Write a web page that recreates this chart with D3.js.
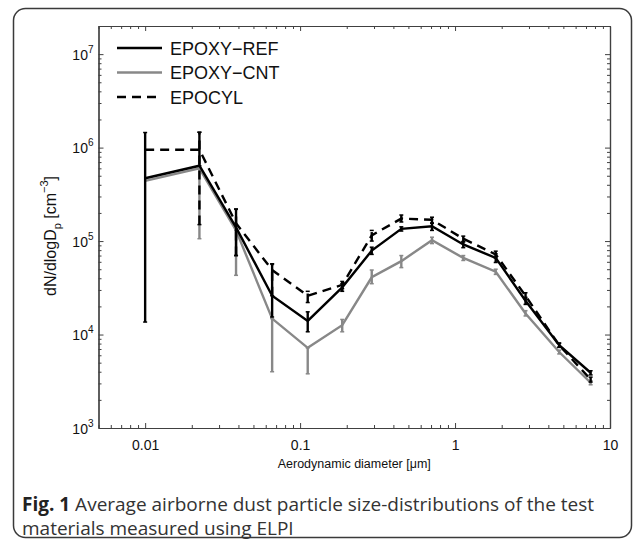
<!DOCTYPE html>
<html>
<head>
<meta charset="utf-8">
<script src="https://cdnjs.cloudflare.com/ajax/libs/d3/7.8.5/d3.min.js"></script>
<style>
body { margin: 0; background: #fff; }
svg { display: block; }
</style>
</head>
<body>
<script>
// ELPI stage diameters (um)
var diameters = [0.01, 0.0224, 0.0386, 0.066, 0.112, 0.187, 0.29, 0.45, 0.71, 1.13, 1.83, 2.85, 4.7, 7.5];

// mean dN/dlogDp, with lower/upper ends of the error bars
var refMean = [4.7e5, 6.4e5, 1.4e5, 2.6e4, 1.4e4, 3.2e4, 7.9e4, 1.35e5, 1.44e5, 9.2e4, 6.6e4, 2.3e4, 7.7e3, 3.9e3];
var refLow  = [1.36e4, 6.4e5, 7.0e4, 1.54e4, 1.07e4, 2.9e4, 7.2e4, 1.28e5, 1.3e5, 8.5e4, 5.9e4, 2.1e4, 7.3e3, 3.7e3];
var refHigh = [1.45e6, 1.46e6, 2.2e5, 5.7e4, 1.75e4, 3.5e4, 8.6e4, 1.42e5, 1.56e5, 9.9e4, 7.3e4, 2.5e4, 8.1e3, 4.1e3];

var cntMean = [4.4e5, 6.0e5, 1.3e5, 1.48e4, 7.2e3, 1.26e4, 4.1e4, 6.1e4, 1.02e5, 6.6e4, 4.7e4, 1.68e4, 6.5e3, 3.05e3];
var cntLow  = [4.4e5, 1.06e5, 4.3e4, 4.0e3, 3.8e3, 1.07e4, 3.5e4, 5.2e4, 9.4e4, 6.2e4, 4.4e4, 1.58e4, 6.2e3, 2.9e3];
var cntHigh = [4.4e5, 6.0e5, 1.3e5, 1.48e4, 7.2e3, 1.45e4, 4.9e4, 7.0e4, 1.1e5, 7.0e4, 5.0e4, 1.8e4, 6.8e3, 3.2e3];

var cylMean = [9.5e5, 9.5e5, 1.55e5, 4.9e4, 2.6e4, 3.4e4, 1.15e5, 1.74e5, 1.69e5, 1.06e5, 7.2e4, 2.6e4, 7.7e3, 3.3e3];
var cylLow  = [9.5e5, 1.5e5, 7.0e4, 2.6e4, 2.2e4, 3.1e4, 1.0e5, 1.6e5, 1.55e5, 9.8e4, 6.6e4, 2.4e4, 7.3e3, 3.1e3];
var cylHigh = [9.5e5, 1.46e6, 2.2e5, 5.7e4, 2.9e4, 3.7e4, 1.3e5, 1.9e5, 1.8e5, 1.13e5, 7.8e4, 2.8e4, 8.1e3, 3.5e3];

var seriesNames = ["EPOXY\u2212REF", "EPOXY\u2212CNT", "EPOCYL"];

var xMajor = [0.01, 0.1, 1, 10];
var xMajorLabels = ["0.01", "0.1", "1", "10"];
var yMajor = [1e3, 1e4, 1e5, 1e6, 1e7];
var yExponents = ["3", "4", "5", "6", "7"];

var captionBold = "Fig. 1";
var captionLines = [" Average airborne dust particle size-distributions of the test", "materials measured using ELPI"];

var width = 633,
    height = 540;

var svg = d3.select("body").append("svg")
    .attr("width", width)
    .attr("height", height);

// figure frame
svg.append("rect")
    .attr("x", 13.5)
    .attr("y", 8.5)
    .attr("width", 618)
    .attr("height", 529)
    .attr("rx", 12)
    .attr("fill", "none")
    .attr("stroke", "#3a3a3a")
    .attr("stroke-width", 1.5);

var plotLeft = 98.5, plotRight = 610, plotTop = 26, plotBottom = 428;

var x = d3.scaleLog().domain([0.005, 10]).range([plotLeft, plotRight]);
var y = d3.scaleLog().domain([1e3, 2e7]).range([plotBottom, plotTop]);

// minor ticks
var xMinor = [];
[0.001, 0.01, 0.1, 1].forEach(function(d){
    for (var k = 2; k <= 9; k++) {
        var v = d * k;
        if (v >= 0.005 && v <= 10) xMinor.push(v);
    }
});
var yMinor = [];
[1e3, 1e4, 1e5, 1e6, 1e7].forEach(function(d){
    for (var k = 2; k <= 9; k++) {
        var v = d * k;
        if (v <= 2e7) yMinor.push(v);
    }
});

var axisColor = "#404040";

function styleAxis(g) {
    g.select(".domain").attr("stroke", axisColor).attr("stroke-width", 1.2);
    g.selectAll(".tick line").attr("stroke", axisColor).attr("stroke-width", 1);
}

var axes = svg.append("g");

axes.append("g").attr("transform", "translate(0," + plotBottom + ")")
    .call(d3.axisBottom(x).tickValues(xMinor).tickSize(-3).tickSizeOuter(0).tickFormat(""))
    .call(styleAxis);
axes.append("g").attr("transform", "translate(0," + plotTop + ")")
    .call(d3.axisTop(x).tickValues(xMinor).tickSize(-3).tickSizeOuter(0).tickFormat(""))
    .call(styleAxis);
axes.append("g").attr("transform", "translate(" + plotLeft + ",0)")
    .call(d3.axisLeft(y).tickValues(yMinor).tickSize(-3).tickSizeOuter(0).tickFormat(""))
    .call(styleAxis);
axes.append("g").attr("transform", "translate(" + plotRight + ",0)")
    .call(d3.axisRight(y).tickValues(yMinor).tickSize(-3).tickSizeOuter(0).tickFormat(""))
    .call(styleAxis);

var xAxis = axes.append("g").attr("transform", "translate(0," + plotBottom + ")")
    .call(d3.axisBottom(x).tickValues(xMajor).tickSize(-5).tickSizeOuter(0)
        .tickFormat(function(d, i){ return xMajorLabels[i]; }))
    .call(styleAxis);
xAxis.selectAll(".tick text")
    .attr("y", 12)
    .attr("font-family", "Liberation Sans, Arial, sans-serif")
    .attr("font-size", 14)
    .attr("fill", "#111");
axes.append("g").attr("transform", "translate(0," + plotTop + ")")
    .call(d3.axisTop(x).tickValues(xMajor).tickSize(-5).tickSizeOuter(0).tickFormat(""))
    .call(styleAxis);

var yAxis = axes.append("g").attr("transform", "translate(" + plotLeft + ",0)")
    .call(d3.axisLeft(y).tickValues(yMajor).tickSize(-5).tickSizeOuter(0).tickFormat(""))
    .call(styleAxis);
yAxis.selectAll(".tick").append("text")
    .attr("x", -5)
    .attr("y", 5)
    .attr("text-anchor", "end")
    .attr("font-family", "Liberation Sans, Arial, sans-serif")
    .attr("font-size", 14)
    .attr("fill", "#111")
    .each(function(d, i){
        var t = d3.select(this);
        t.append("tspan").text("10");
        t.append("tspan").attr("dy", -7).attr("font-size", 10).text(yExponents[i]);
    });
axes.append("g").attr("transform", "translate(" + plotRight + ",0)")
    .call(d3.axisRight(y).tickValues(yMajor).tickSize(-5).tickSizeOuter(0).tickFormat(""))
    .call(styleAxis);

// axis labels
svg.append("text")
    .attr("x", (plotLeft + plotRight) / 2)
    .attr("y", 468)
    .attr("text-anchor", "middle")
    .attr("font-family", "Liberation Sans, Arial, sans-serif")
    .attr("font-size", 12.5)
    .attr("fill", "#111")
    .text("Aerodynamic diameter [\u03bcm]");

var yLabel = svg.append("text")
    .attr("transform", "translate(56,236) rotate(-90)")
    .attr("text-anchor", "middle")
    .attr("font-family", "Liberation Sans, Arial, sans-serif")
    .attr("font-size", 16)
    .attr("fill", "#111");
yLabel.append("tspan").text("dN/dlogD");
yLabel.append("tspan").attr("dy", 5).attr("font-size", 11).text("p");
yLabel.append("tspan").attr("dy", -5).text(" [cm");
yLabel.append("tspan").attr("dy", -8).attr("font-size", 11).text("\u22123");
yLabel.append("tspan").attr("dy", 8).text("]");

// series
var series = [
    {name: seriesNames[1], mean: cntMean, low: cntLow, high: cntHigh, color: "#888888", dash: null},
    {name: seriesNames[0], mean: refMean, low: refLow, high: refHigh, color: "#000000", dash: null},
    {name: seriesNames[2], mean: cylMean, low: cylLow, high: cylHigh, color: "#000000", dash: "9,6"}
];

var line = d3.line()
    .x(function(d){ return x(d.d); })
    .y(function(d){ return y(d.v); });

var plot = svg.append("g");

series.forEach(function(s){
    var pts = diameters.map(function(d, i){
        return {d: d, v: s.mean[i], lo: s.low[i], hi: s.high[i]};
    });
    var g = plot.append("g");
    g.selectAll(".bar")
        .data(pts)
        .enter().append("line")
            .attr("class", "bar")
            .attr("x1", function(d){ return x(d.d); })
            .attr("x2", function(d){ return x(d.d); })
            .attr("y1", function(d){ return y(d.lo); })
            .attr("y2", function(d){ return y(d.hi); })
            .attr("stroke", s.color)
            .attr("stroke-width", 2.4)
            .attr("stroke-dasharray", s.dash);
    ["lo", "hi"].forEach(function(k){
        g.selectAll(".cap-" + k)
            .data(pts.filter(function(d){ return d.hi !== d.lo; }))
            .enter().append("line")
                .attr("class", "cap-" + k)
                .attr("x1", function(d){ return x(d.d) - 2; })
                .attr("x2", function(d){ return x(d.d) + 2; })
                .attr("y1", function(d){ return y(d[k]); })
                .attr("y2", function(d){ return y(d[k]); })
                .attr("stroke", s.color)
                .attr("stroke-width", 1.5);
    });
    g.append("path")
        .datum(pts)
        .attr("d", line)
        .attr("fill", "none")
        .attr("stroke", s.color)
        .attr("stroke-width", 2.4)
        .attr("stroke-dasharray", s.dash);
});

// legend
var legendOrder = [series[1], series[0], series[2]];
var legend = svg.append("g").attr("transform", "translate(117,48)");
legendOrder.forEach(function(s, i){
    var row = legend.append("g").attr("transform", "translate(0," + (i * 24.5) + ")");
    row.append("line")
        .attr("x1", 0).attr("x2", 45)
        .attr("stroke", s.color)
        .attr("stroke-width", 2.4)
        .attr("stroke-dasharray", s.dash);
    row.append("text")
        .attr("x", 53)
        .attr("y", 6.5)
        .attr("font-family", "Liberation Sans, Arial, sans-serif")
        .attr("font-size", 18)
        .attr("fill", "#111")
        .text(s.name);
});

// caption
var caption = svg.append("text")
    .attr("x", 22)
    .attr("y", 511)
    .attr("font-family", "Open Sans, sans-serif")
    .attr("font-size", 19)
    .attr("fill", "#333");
caption.append("tspan").attr("font-weight", "bold").attr("fill", "#222").text(captionBold);
caption.append("tspan").text(captionLines[0]);
svg.append("text")
    .attr("x", 22)
    .attr("y", 535)
    .attr("font-family", "Open Sans, sans-serif")
    .attr("font-size", 19)
    .attr("fill", "#333")
    .text(captionLines[1]);
</script>
</body>
</html>
